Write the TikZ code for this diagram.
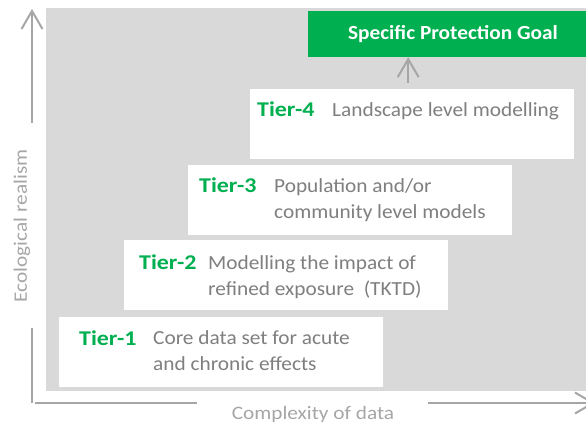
\documentclass[tikz,border=0pt]{standalone}
\usepackage{fontspec}
\setmainfont{Carlito}[FakeStretch=1.066]
\newfontfamily\namefont{Carlito}[FakeStretch=1.14]
\newfontfamily\axisfont{Carlito}[FakeStretch=1.12]
\usetikzlibrary{arrows.meta}

\definecolor{tiergreen}{HTML}{00B050}
\definecolor{bggray}{HTML}{D9D9D9}
\definecolor{textgray}{HTML}{7F7F7F}
\definecolor{axisgray}{HTML}{A6A6A6}

\tikzset{
  tierbox/.style={fill=white, anchor=north west, inner sep=0pt,
    minimum width=324bp, minimum height=70bp},
  tiername/.style={anchor=base west, inner sep=0pt, text=tiergreen,
    font=\namefont\fontsize{21bp}{26bp}\selectfont\bfseries},
  tiertext/.style={anchor=base west, inner sep=0pt, text=textgray, align=left,
    font=\fontsize{20bp}{26bp}\selectfont},
  axislabel/.style={inner sep=0pt, text=axisgray, font=\axisfont\fontsize{19bp}{23bp}\selectfont},
  axisline/.style={draw=axisgray, line width=2bp},
  barb/.style={-{Straight Barb[length=18bp, width=21bp, line width=2bp]}}
}

\begin{document}
\begin{tikzpicture}[x=1bp, y=-1bp]
\useasboundingbox (0,0) rectangle (586,425);
%\draw[style=help lines, step=50] (0,0) grid (586,425);

\fill[bggray] (46,8) rectangle (600,391);

% goal
\node[fill=tiergreen, text=white, minimum width=290bp, minimum height=46bp, inner sep=0pt,
  font=\fontsize{20bp}{24bp}\selectfont\bfseries] (goal) at (453,34) {Specific Protection Goal};

% tiers
\node[tierbox] (t4) at (250,89) {};
	\node[tiername] (t4name) at (257,116) {Tier-4};
	\node[tiertext] (t4text) at (332,116) {Landscape level modelling};
\node[tierbox] (t3) at (188,165) {};
	\node[tiername] (t3name) at (199,192) {Tier-3};
	\node[tiertext] (t3text) at (274,218) {Population and/or\\community level models};
\node[tierbox] (t2) at (124,240) {};
	\node[tiername] (t2name) at (139,269) {Tier-2};
	\node[tiertext] (t2text) at (208,295) {Modelling the impact of\\refined exposure~~(TKTD)};
\node[tierbox] (t1) at (59,317) {};
	\node[tiername] (t1name) at (79,345) {Tier-1};
	\node[tiertext] (t1text) at (153,370) {Core data set for acute\\and chronic effects};

\draw[axisline, barb, shorten <=6bp] ([xshift=-4bp]t4.north) -- ([xshift=-4bp]t4.north |- goal.south);

% axes
\coordinate (origin) at (32,403);
\node[axislabel, rotate=90] (ylabel) at (22,226) {Ecological realism};
\node[axislabel] (xlabel) at (313,414) {Complexity of data};
\draw[axisline] (origin) -- (32,328);
\draw[axisline, barb] (32,123) -- (32,9);
\draw[axisline] (35,403) -- (197,403);
\draw[axisline, barb] (428,403) -- (595,403);
\end{tikzpicture}
\end{document}
